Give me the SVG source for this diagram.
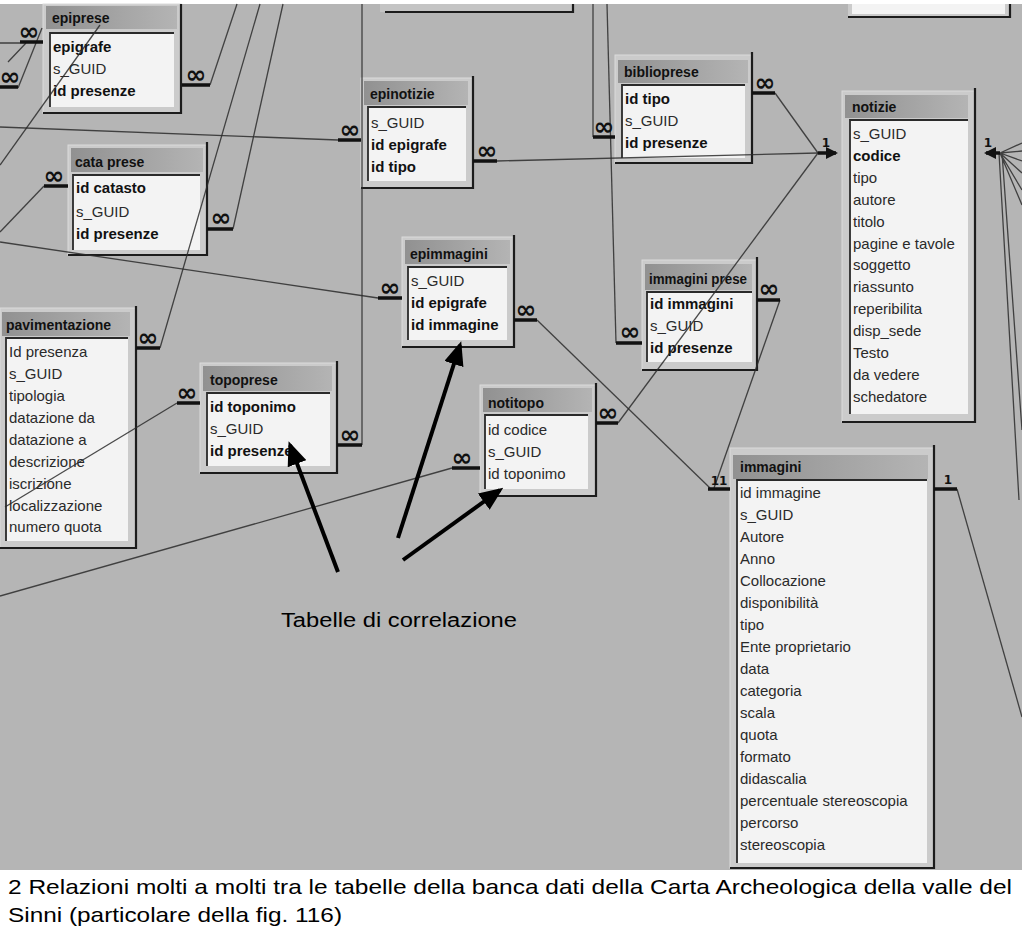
<svg xmlns="http://www.w3.org/2000/svg" width="1022" height="941" viewBox="0 0 1022 941">
<defs>
<linearGradient id="tbg" x1="0" y1="0" x2="1" y2="0">
<stop offset="0" stop-color="#919191"/>
<stop offset="1" stop-color="#b4b4b4"/>
</linearGradient>
<marker id="ah" markerUnits="userSpaceOnUse" markerWidth="24" markerHeight="20" refX="20" refY="10" orient="auto">
<path d="M0,0 L24,10 L0,20 z" fill="#000"/>
</marker>
<marker id="sa" markerUnits="userSpaceOnUse" markerWidth="12" markerHeight="12" refX="10" refY="6" orient="auto">
<path d="M0,0 L12,6 L0,12 z" fill="#111"/>
</marker>
<style>
.fr{fill:#cbcbcb;stroke:#dcdcdc;stroke-width:1}
.tb{fill:url(#tbg)}
.ls{fill:#f3f3f3}
.ed{fill:none;stroke:#2a2a2a;stroke-width:1.8}
.dk{fill:none;stroke:#1c1c1c;stroke-width:2.2}
.tt{font-family:"Liberation Sans",Arial,sans-serif;font-weight:bold;font-size:14px;fill:#111}
.f{font-family:"Liberation Sans",Arial,sans-serif;font-size:15px;fill:#2a2a2a}
.b{font-weight:bold;fill:#111}
.cn{fill:none;stroke:#2b2b2b;stroke-width:1.3;stroke-opacity:0.85}
.bar{fill:none;stroke:#111;stroke-width:3.5}
.inf{font-family:"DejaVu Sans",sans-serif;font-weight:bold;font-size:25px;fill:#111;text-anchor:middle}
.one{font-family:"DejaVu Sans",sans-serif;font-weight:bold;font-size:12px;fill:#111;text-anchor:middle}
.ann{fill:none;stroke:#000;stroke-width:4}
.cap{font-family:"Liberation Sans",Arial,sans-serif;font-size:21px;fill:#000}
</style>
</defs>
<rect x="0" y="0" width="1022" height="941" fill="#fff"/>
<rect x="0" y="4" width="1022" height="866" fill="#b5b5b5"/>

<g id="top-table-a">
<rect x="380" y="4" width="193" height="8" fill="#c4c4c4"/>
<path class="dk" d="M573,4 V12 H385"/>
</g>
<g id="top-table-b">
<rect x="848" y="4" width="162" height="13" fill="#cbcbcb"/>
<rect x="852" y="4" width="153" height="10" fill="#f3f3f3"/>
<path class="dk" d="M1010,4 V17 H848"/>
</g>

<g id="epiprese">
<rect class="fr" x="43" y="4" width="138" height="109"/>
<rect class="tb" x="46" y="6" width="131" height="23"/>
<rect class="ls" x="50" y="33" width="124" height="74"/>
<path class="ed" d="M50,107 V33 H174"/>
<path class="dk" d="M181,4 V113 H43"/>
<text class="tt" x="52" y="23">epiprese</text>
<text class="f b" x="53" y="52">epigrafe</text>
<text class="f" x="53" y="74">s_GUID</text>
<text class="f b" x="53" y="96">id presenze</text>
</g>

<g id="cata-prese">
<rect class="fr" x="68" y="145" width="139" height="110"/>
<rect class="tb" x="71" y="148" width="132" height="24"/>
<rect class="ls" x="73" y="175" width="127" height="75"/>
<path class="ed" d="M73,250 V175 H200"/>
<path class="dk" d="M207,142 V255 H68"/>
<text class="tt" x="75" y="167">cata prese</text>
<text class="f b" x="76" y="193">id catasto</text>
<text class="f" x="76" y="217">s_GUID</text>
<text class="f b" x="76" y="239">id presenze</text>
</g>

<g id="epinotizie">
<rect class="fr" x="361" y="78" width="112" height="110"/>
<rect class="tb" x="364" y="81" width="104" height="24"/>
<rect class="ls" x="368" y="107" width="98" height="74"/>
<path class="ed" d="M368,181 V107 H466"/>
<path class="dk" d="M473,76 V188 H361"/>
<text class="tt" x="370" y="99">epinotizie</text>
<text class="f" x="371" y="128">s_GUID</text>
<text class="f b" x="371" y="150">id epigrafe</text>
<text class="f b" x="371" y="172">id tipo</text>
</g>

<g id="biblioprese">
<rect class="fr" x="615" y="55" width="137" height="108"/>
<rect class="tb" x="618" y="60" width="130" height="23"/>
<rect class="ls" x="622" y="85" width="123" height="73"/>
<path class="ed" d="M622,158 V85 H745"/>
<path class="dk" d="M752,52 V163 H615"/>
<text class="tt" x="624" y="77">biblioprese</text>
<text class="f b" x="625" y="104">id tipo</text>
<text class="f" x="625" y="126">s_GUID</text>
<text class="f b" x="625" y="148">id presenze</text>
</g>

<g id="notizie">
<rect class="fr" x="842" y="91" width="133" height="331"/>
<rect class="tb" x="845" y="95" width="123" height="23"/>
<rect class="ls" x="850" y="120" width="118" height="294"/>
<path class="ed" d="M850,414 V120 H968"/>
<path class="dk" d="M975,88 V422 H842"/>
<text class="tt" x="852" y="112">notizie</text>
<text class="f" x="853" y="139">s_GUID</text>
<text class="f b" x="853" y="161">codice</text>
<text class="f" x="853" y="183">tipo</text>
<text class="f" x="853" y="205">autore</text>
<text class="f" x="853" y="227">titolo</text>
<text class="f" x="853" y="249">pagine e tavole</text>
<text class="f" x="853" y="270">soggetto</text>
<text class="f" x="853" y="292">riassunto</text>
<text class="f" x="853" y="314">reperibilita</text>
<text class="f" x="853" y="336">disp_sede</text>
<text class="f" x="853" y="358">Testo</text>
<text class="f" x="853" y="380">da vedere</text>
<text class="f" x="853" y="402">schedatore</text>
</g>

<g id="epimmagini">
<rect class="fr" x="402" y="237" width="112" height="110"/>
<rect class="tb" x="405" y="240" width="105" height="24"/>
<rect class="ls" x="408" y="267" width="99" height="73"/>
<path class="ed" d="M408,340 V267 H507"/>
<path class="dk" d="M514,235 V347 H402"/>
<text class="tt" x="410" y="259">epimmagini</text>
<text class="f" x="411" y="286">s_GUID</text>
<text class="f b" x="411" y="308">id epigrafe</text>
<text class="f b" x="411" y="330">id immagine</text>
</g>

<g id="immagini-prese">
<rect class="fr" x="642" y="260" width="115" height="110"/>
<rect class="tb" x="645" y="264" width="107" height="26"/>
<rect class="ls" x="647" y="292" width="105" height="70"/>
<path class="ed" d="M647,362 V292 H752"/>
<path class="dk" d="M757,257 V370 H642"/>
<text class="tt" x="649" y="284" textLength="98" lengthAdjust="spacingAndGlyphs">immagini prese</text>
<text class="f b" x="650" y="309">id immagini</text>
<text class="f" x="650" y="331">s_GUID</text>
<text class="f b" x="650" y="353">id presenze</text>
</g>

<g id="notitopo">
<rect class="fr" x="480" y="385" width="116" height="111"/>
<rect class="tb" x="483" y="388" width="109" height="24"/>
<rect class="ls" x="485" y="415" width="103" height="74"/>
<path class="ed" d="M485,489 V415 H588"/>
<path class="dk" d="M596,383 V496 H480"/>
<text class="tt" x="488" y="408">notitopo</text>
<text class="f" x="488" y="435">id codice</text>
<text class="f" x="488" y="457">s_GUID</text>
<text class="f" x="488" y="479">id toponimo</text>
</g>

<g id="topoprese">
<rect class="fr" x="200" y="363" width="137" height="110"/>
<rect class="tb" x="203" y="366" width="129" height="25"/>
<rect class="ls" x="207" y="393" width="123" height="73"/>
<path class="ed" d="M207,466 V393 H330"/>
<path class="dk" d="M337,361 V473 H200"/>
<text class="tt" x="210" y="385">topoprese</text>
<text class="f b" x="210" y="412">id toponimo</text>
<text class="f" x="210" y="434">s_GUID</text>
<text class="f b" x="210" y="456">id presenze</text>
</g>

<g id="pavimentazione">
<rect class="fr" x="0" y="308" width="136" height="240"/>
<rect class="tb" x="2" y="312" width="128" height="24"/>
<rect class="ls" x="6" y="338" width="122" height="203"/>
<path class="ed" d="M6,541 V338 H128"/>
<path class="dk" d="M136,306 V548 H0"/>
<text class="tt" x="6" y="330">pavimentazione</text>
<text class="f" x="9" y="357">Id presenza</text>
<text class="f" x="9" y="379">s_GUID</text>
<text class="f" x="9" y="401">tipologia</text>
<text class="f" x="9" y="423">datazione da</text>
<text class="f" x="9" y="445">datazione a</text>
<text class="f" x="9" y="467">descrizione</text>
<text class="f" x="9" y="489">iscrizione</text>
<text class="f" x="9" y="511">localizzazione</text>
<text class="f" x="9" y="532">numero quota</text>
</g>

<g id="immagini">
<rect class="fr" x="730" y="448" width="204" height="420"/>
<rect class="tb" x="733" y="455" width="195" height="24"/>
<rect class="ls" x="737" y="480" width="190" height="383"/>
<path class="ed" d="M737,863 V480 H927"/>
<path class="dk" d="M934,445 V868 H730"/>
<text class="tt" x="740" y="472">immagini</text>
<text class="f" x="740" y="498">id immagine</text>
<text class="f" x="740" y="520">s_GUID</text>
<text class="f" x="740" y="542">Autore</text>
<text class="f" x="740" y="564">Anno</text>
<text class="f" x="740" y="586">Collocazione</text>
<text class="f" x="740" y="608">disponibilità</text>
<text class="f" x="740" y="630">tipo</text>
<text class="f" x="740" y="652">Ente proprietario</text>
<text class="f" x="740" y="674">data</text>
<text class="f" x="740" y="696">categoria</text>
<text class="f" x="740" y="718">scala</text>
<text class="f" x="740" y="740">quota</text>
<text class="f" x="740" y="762">formato</text>
<text class="f" x="740" y="784">didascalia</text>
<text class="f" x="740" y="806">percentuale stereoscopia</text>
<text class="f" x="740" y="828">percorso</text>
<text class="f" x="740" y="850">stereoscopia</text>
</g>

<g id="connectors">
<path class="cn" d="M0,43 H20 M8,62 L26,43"/>
<path class="cn" d="M18,88 L42,28"/>
<path class="cn" d="M0,165 L100,25" stroke-opacity="0.5"/>
<path class="cn" d="M210,85 L237,4"/>
<path class="cn" d="M0,127 L338,140"/>
<path class="cn" d="M497,161 L818,153"/>
<path class="cn" d="M593,4 V137"/>
<path class="cn" d="M775,93 L818,153"/>
<path class="cn" d="M44,186 L0,232"/>
<path class="cn" d="M233,229 L283,4"/>
<path class="cn" d="M0,242 L378,298"/>
<path class="cn" d="M537,320 L710,488"/>
<path class="cn" d="M607,4 L616,343"/>
<path class="cn" d="M780,300 L714,488"/>
<path class="cn" d="M618,423 L818,153" stroke-opacity="0.6"/>
<path class="cn" d="M452,468 L0,596"/>
<path class="cn" d="M177,403 L5,507" stroke-opacity="0.55"/>
<path class="cn" d="M362,445 L362,4"/>
<path class="cn" d="M160,348 L260,4" stroke-opacity="0.7"/>
<path class="cn" d="M957,489 L1022,717"/>
<path class="cn" d="M1000,153 L1022,143 M1000,153 L1022,151 M1000,153 L1022,161 M1000,153 L1022,173 M1000,153 L1022,190 M1000,153 L1022,205 M999,153 L1019,500 M1002,153 L1022,430"/>

<path class="bar" d="M20,42 H43"/>
<path class="bar" d="M0,87 H18"/>
<path class="bar" d="M182,85 H210"/>
<path class="bar" d="M338,140 H361"/>
<path class="bar" d="M473,161 H497"/>
<path class="bar" d="M593,137 H615"/>
<path class="bar" d="M752,93 H775"/>
<path class="bar" d="M44,186 H68"/>
<path class="bar" d="M207,229 H233"/>
<path class="bar" d="M378,298 H402"/>
<path class="bar" d="M514,320 H537"/>
<path class="bar" d="M616,343 H642"/>
<path class="bar" d="M757,300 H780"/>
<path class="bar" d="M596,423 H618"/>
<path class="bar" d="M452,468 H480"/>
<path class="bar" d="M177,403 H200"/>
<path class="bar" d="M337,445 H362"/>
<path class="bar" d="M136,348 H160"/>
<path class="bar" d="M708,489 H730"/>
<path class="bar" d="M934,489 H957"/>
<path class="bar" d="M818,153 H836" marker-end="url(#sa)"/>
<path class="bar" d="M1000,153 H986" marker-end="url(#sa)"/>

<text class="inf" x="29" y="40">∞</text>
<text class="inf" x="10" y="85">∞</text>
<text class="inf" x="196" y="83">∞</text>
<text class="inf" x="350" y="138">∞</text>
<text class="inf" x="487" y="159">∞</text>
<text class="inf" x="604" y="135">∞</text>
<text class="inf" x="765" y="91">∞</text>
<text class="inf" x="54" y="184">∞</text>
<text class="inf" x="221" y="226">∞</text>
<text class="inf" x="390" y="296">∞</text>
<text class="inf" x="526" y="318">∞</text>
<text class="inf" x="630" y="340">∞</text>
<text class="inf" x="769" y="297">∞</text>
<text class="inf" x="608" y="421">∞</text>
<text class="inf" x="462" y="466">∞</text>
<text class="inf" x="187" y="401">∞</text>
<text class="inf" x="350" y="443">∞</text>
<text class="inf" x="148" y="346">∞</text>
<text class="one" x="826" y="147">1</text>
<text class="one" x="988" y="147">1</text>
<text class="one" x="719" y="485">11</text>
<text class="one" x="948" y="484">1</text>
</g>

<g id="annotation">
<path class="ann" d="M338,572 L290,445" marker-end="url(#ah)"/>
<path class="ann" d="M398,538 L460,345" marker-end="url(#ah)"/>
<path class="ann" d="M403,560 L500,490" marker-end="url(#ah)"/>
<text x="281" y="627" font-family="Liberation Sans, Arial, sans-serif" font-size="20" textLength="236" lengthAdjust="spacingAndGlyphs" fill="#000">Tabelle di correlazione</text>
</g>

<g id="caption">
<text class="cap" x="8" y="894" textLength="1004" lengthAdjust="spacingAndGlyphs">2 Relazioni molti a molti tra le tabelle della banca dati della Carta Archeologica della valle del</text>
<text class="cap" x="8" y="922" textLength="334" lengthAdjust="spacingAndGlyphs">Sinni (particolare della fig. 116)</text>
</g>
</svg>
